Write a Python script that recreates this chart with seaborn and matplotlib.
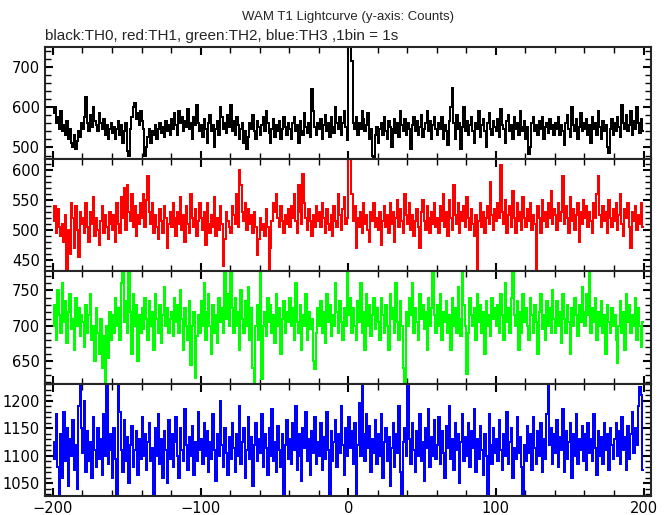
import matplotlib
matplotlib.use("Agg")
import matplotlib.pyplot as plt
import numpy as np
import seaborn as sns
from matplotlib.ticker import MultipleLocator

# WAM T1 lightcurve, 1 s bins from -200 s to +200 s
time_bins = np.arange(-200, 200) + 0.5

th0_counts = [
    585, 600, 560, 575, 545, 590, 540, 555, 530, 565, 520, 545, 510, 500, 530, 495, 515, 540, 525, 560,
    545, 575, 625, 560, 540, 580, 550, 600, 565, 555, 540, 585, 560, 545, 570, 530, 555, 520, 545, 560,
    535, 550, 520, 545, 565, 530, 555, 510, 540, 560, 490, 480, 545, 575, 600, 610, 570, 585, 555, 590,
    565, 545, 480, 500, 525, 545, 510, 540, 530, 555, 520, 545, 560, 535, 550, 525, 565, 540, 555, 530,
    570, 545, 585, 555, 530, 590, 560, 575, 540, 565, 550, 595, 545, 560, 520, 575, 555, 605, 560, 540,
    555, 525, 570, 545, 510, 560, 580, 540, 555, 500, 545, 565, 530, 600, 575, 545, 560, 535, 580, 550,
    605, 540, 565, 530, 575, 555, 520, 545, 560, 510, 540, 495, 525, 560, 545, 580, 540, 520, 565, 550,
    530, 555, 575, 540, 590, 560, 535, 510, 545, 570, 525, 555, 540, 565, 520, 545, 575, 550, 530, 560,
    545, 520, 560, 575, 540, 555, 510, 565, 540, 530, 585, 550, 535, 560, 525, 645, 590, 550, 530, 560,
    545, 570, 520, 555, 580, 540, 560, 525, 575, 550, 535, 600, 560, 545, 575, 530, 560, 591, 550, 518,
    800, 765, 715, 560, 545, 575, 530, 560, 545, 590, 570, 540, 555, 585, 520, 545, 480, 475, 530, 550,
    510, 545, 560, 530, 575, 540, 520, 565, 550, 500, 545, 570, 535, 560, 525, 590, 555, 540, 570, 530,
    560, 545, 495, 555, 575, 540, 565, 530, 550, 580, 525, 545, 560, 590, 540, 565, 520, 555, 575, 545,
    530, 560, 545, 575, 520, 555, 540, 505, 565, 600, 648, 560, 520, 580, 545, 560, 495, 550, 600, 540,
    565, 530, 555, 575, 540, 510, 560, 545, 590, 525, 555, 570, 540, 500, 560, 585, 545, 530, 565, 550,
    540, 570, 525, 595, 555, 545, 510, 565, 580, 540, 555, 520, 575, 545, 560, 530, 590, 550, 540, 565,
    520, 550, 485, 500, 560, 575, 540, 555, 530, 565, 545, 575, 520, 550, 560, 535, 570, 545, 555, 530,
    560, 545, 575, 530, 555, 540, 505, 560, 580, 545, 525, 600, 555, 540, 570, 520, 550, 585, 540, 560,
    545, 570, 530, 555, 510, 575, 545, 560, 530, 590, 550, 520, 565, 540, 555, 500, 487, 545, 570, 530,
    560, 540, 575, 550, 525, 605, 560, 545, 580, 540, 555, 590, 530, 565, 545, 600, 560, 535, 570, 540,
]

th1_counts = [
    515, 540, 495, 535, 505, 490, 510, 480, 525, 435, 500, 460, 545, 520, 470, 540, 500, 455, 530, 510,
    520, 495, 545, 505, 480, 530, 510, 555, 490, 520, 500, 475, 515, 540, 495, 525, 505, 485, 530, 510,
    500, 525, 480, 545, 510, 495, 555, 520, 570, 500, 575, 530, 515, 560, 505, 540, 490, 525, 510, 545,
    520, 560, 505, 550, 590, 530, 510, 545, 495, 525, 505, 485, 535, 515, 495, 540, 520, 470, 510, 530,
    505, 545, 520, 490, 530, 510, 555, 500, 525, 480, 540, 510, 495, 560, 520, 505, 535, 490, 515, 545,
    520, 500, 530, 475, 545, 510, 495, 525, 505, 555, 490, 520, 500, 540, 510, 440, 485, 530, 515, 505,
    495, 540, 525, 510, 560, 505, 600, 575, 530, 515, 545, 500, 535, 510, 525, 495, 530, 505, 458, 485,
    520, 500, 510, 490, 535, 505, 433, 470, 515, 545, 530, 560, 520, 505, 540, 515, 495, 525, 510, 535,
    505, 540, 520, 560, 515, 495, 575, 530, 510, 593, 545, 520, 500, 535, 515, 490, 525, 505, 540, 515,
    530, 505, 545, 520, 495, 535, 510, 500, 525, 490, 540, 515, 505, 560, 525, 500, 535, 555, 510, 520,
    625, 620, 560, 515, 540, 470, 520, 505, 530, 495, 545, 510, 525, 500, 480, 530, 515, 545, 505, 520,
    500, 530, 475, 515, 540, 505, 525, 495, 545, 510, 530, 480, 520, 550, 505, 535, 515, 495, 560, 525,
    510, 545, 500, 525, 490, 515, 535, 505, 470, 530, 550, 515, 500, 540, 520, 495, 530, 510, 545, 505,
    520, 495, 540, 515, 560, 505, 530, 490, 550, 520, 500, 575, 525, 510, 545, 495, 530, 515, 540, 505,
    555, 520, 500, 535, 510, 490, 525, 433, 515, 545, 505, 530, 495, 520, 540, 510, 580, 525, 500, 535,
    515, 545, 520, 608, 530, 510, 550, 495, 525, 540, 505, 565, 520, 495, 545, 515, 530, 500, 555, 520,
    505, 535, 515, 545, 500, 525, 510, 433, 540, 520, 495, 550, 515, 530, 505, 545, 520, 565, 510, 535,
    525, 500, 545, 515, 530, 590, 510, 540, 520, 495, 555, 515, 535, 500, 525, 545, 480, 530, 510, 550,
    520, 540, 505, 530, 515, 495, 545, 520, 560, 590, 525, 505, 540, 515, 530, 495, 550, 520, 505, 535,
    515, 545, 500, 525, 560, 510, 490, 535, 520, 545, 505, 470, 530, 515, 540, 500, 525, 510, 545, 505,
]

th2_counts = [
    700, 730, 680, 750, 715, 690, 760, 705, 735, 675, 720, 745, 695, 710, 665, 740, 700, 725, 685, 715,
    705, 670, 730, 690, 715, 745, 680, 700, 650, 725, 690, 660, 710, 640, 685, 620, 700, 655, 720, 680,
    715, 690, 740, 700, 725, 680, 760, 780, 705, 735, 690, 780, 720, 660, 745, 700, 730, 650, 715, 690,
    725, 695, 740, 710, 680, 735, 700, 720, 665, 745, 710, 690, 730, 675, 715, 755, 700, 725, 690, 710,
    720, 685, 740, 705, 730, 690, 750, 710, 665, 725, 700, 680, 735, 645, 700, 720, 626, 685, 715, 690,
    735, 700, 760, 680, 720, 745, 700, 660, 730, 690, 715, 675, 740, 705, 725, 690, 780, 710, 745, 700,
    780, 725, 690, 740, 700, 720, 665, 750, 710, 690, 735, 700, 755, 680, 725, 640, 618, 700, 730, 680,
    780, 625, 700, 720, 685, 740, 705, 730, 690, 715, 675, 745, 700, 725, 660, 710, 735, 690, 720, 705,
    740, 700, 725, 680, 760, 705, 690, 730, 665, 715, 700, 745, 680, 720, 695, 710, 650, 639, 690, 725,
    700, 735, 690, 720, 675, 745, 705, 730, 685, 715, 700, 760, 720, 690, 735, 705, 680, 725, 700, 780,
    715, 740, 690, 725, 700, 680, 735, 705, 760, 690, 720, 665, 745, 700, 730, 685, 715, 740, 695, 725,
    705, 680, 740, 715, 690, 730, 700, 665, 745, 710, 725, 690, 760, 705, 680, 735, 700, 640, 618, 720,
    700, 740, 715, 760, 690, 725, 705, 680, 745, 710, 730, 695, 720, 665, 740, 700, 725, 780, 715, 690,
    730, 700, 745, 680, 720, 705, 735, 690, 715, 665, 740, 700, 725, 690, 755, 710, 685, 780, 730, 700,
    632, 690, 740, 715, 700, 725, 680, 745, 705, 730, 690, 720, 660, 735, 700, 715, 685, 740, 710, 725,
    700, 730, 690, 745, 715, 680, 760, 705, 725, 690, 740, 780, 715, 700, 735, 665, 720, 690, 745, 705,
    725, 700, 680, 740, 715, 690, 730, 705, 660, 720, 745, 695, 715, 680, 735, 700, 725, 690, 750, 710,
    690, 735, 700, 720, 675, 745, 710, 690, 730, 705, 660, 725, 700, 740, 715, 685, 730, 705, 755, 720,
    700, 745, 715, 780, 690, 725, 705, 740, 680, 720, 700, 735, 690, 715, 660, 730, 705, 690, 725, 700,
    715, 680, 647, 700, 735, 690, 720, 665, 745, 705, 730, 690, 715, 700, 740, 680, 725, 700, 670, 705,
]

th3_counts = [
    1125, 1095, 1175, 1080, 1030, 1140, 1060, 1180, 1090, 1150, 1045, 1130, 1100, 1165, 1075, 1120, 1040, 1190, 1231, 1150,
    1105, 1200, 1070, 1145, 1090, 1125, 1060, 1170, 1110, 1080, 1150, 1095, 1130, 1065, 1175, 1100, 1231, 1085, 1140, 1110,
    1060, 1150, 1095, 1030, 1231, 1180, 1110, 1070, 1165, 1090, 1135, 1050, 1120, 1155, 1080, 1110, 1145, 1065, 1130, 1095,
    1170, 1100, 1140, 1075, 1125, 1160, 1090, 1115, 1030, 1150, 1100, 1175, 1085, 1130, 1060, 1145, 1110, 1050, 1165, 1095,
    1140, 1080, 1125, 1170, 1100, 1060, 1150, 1110, 1090, 1185, 1120, 1075, 1135, 1100, 1155, 1065, 1125, 1090, 1180, 1110,
    1130, 1085, 1160, 1100, 1145, 1070, 1125, 1095, 1175, 1110, 1055, 1140, 1100, 1200, 1120, 1080, 1150, 1105, 1065, 1135,
    1095, 1160, 1115, 1070, 1140, 1100, 1190, 1085, 1125, 1150, 1060, 1110, 1170, 1095, 1135, 1045, 1120, 1160, 1090, 1130,
    1105, 1175, 1080, 1140, 1115, 1065, 1150, 1100, 1185, 1090, 1125, 1070, 1155, 1110, 1080, 1140, 1030, 1120, 1165, 1095,
    1130, 1085, 1160, 1110, 1190, 1075, 1140, 1100, 1055, 1150, 1115, 1180, 1090, 1130, 1065, 1145, 1105, 1170, 1085, 1125,
    1100, 1160, 1075, 1135, 1095, 1180, 1110, 1030, 1145, 1090, 1125, 1165, 1080, 1140, 1105, 1190, 1120, 1065, 1150, 1100,
    1170, 1115, 1145, 1085, 1160, 1030, 1120, 1195, 1100, 1231, 1140, 1090, 1175, 1115, 1155, 1070, 1130, 1105, 1165, 1085,
    1140, 1100, 1175, 1060, 1125, 1150, 1090, 1135, 1045, 1115, 1160, 1080, 1140, 1105, 1190, 1070, 1030, 1125, 1150, 1100,
    1231, 1130, 1085, 1160, 1110, 1070, 1145, 1100, 1175, 1090, 1125, 1055, 1150, 1115, 1185, 1080, 1135, 1100, 1165, 1095,
    1120, 1170, 1085, 1145, 1105, 1060, 1155, 1115, 1190, 1095, 1130, 1075, 1160, 1110, 1140, 1050, 1125, 1175, 1090, 1135,
    1100, 1160, 1080, 1145, 1115, 1185, 1070, 1130, 1095, 1155, 1110, 1065, 1140, 1100, 1030, 1175, 1120, 1085, 1150, 1105,
    1130, 1090, 1165, 1110, 1075, 1140, 1100, 1180, 1085, 1125, 1150, 1060, 1115, 1095, 1170, 1105, 1135, 1080, 1030, 1120,
    1090, 1155, 1105, 1140, 1075, 1170, 1115, 1085, 1145, 1100, 1160, 1070, 1130, 1095, 1175, 1231, 1120, 1150, 1085, 1140,
    1105, 1165, 1080, 1135, 1110, 1185, 1070, 1145, 1095, 1125, 1160, 1060, 1140, 1100, 1175, 1085, 1130, 1110, 1155, 1090,
    1140, 1075, 1160, 1105, 1130, 1090, 1175, 1115, 1065, 1145, 1100, 1135, 1085, 1160, 1110, 1140, 1075, 1150, 1120, 1095,
    1130, 1160, 1100, 1145, 1085, 1170, 1110, 1135, 1075, 1155, 1095, 1140, 1180, 1105, 1150, 1120, 1190, 1225, 1210, 1075,
]

channels = [th0_counts, th1_counts, th2_counts, th3_counts]
colors = ["black", "#ff0000", "#00ff00", "#0000ff"]
ylims = [(471, 750), (431, 618), (618, 777), (1027, 1231)]
ymajor = [100, 50, 50, 50]
yminor = [20, 10, 10, 10]

sns.set_style("ticks")
plt.rcParams["font.family"] = ["DejaVu Sans"]

fig, axes = plt.subplots(4, 1, figsize=(6.69, 5.15), dpi=100, sharex=True)
fig.subplots_adjust(left=0.067, right=0.973, top=0.909, bottom=0.037, hspace=0)

for ax, counts, c, yl, mj, mn in zip(axes, channels, colors, ylims, ymajor, yminor):
    sns.lineplot(x=time_bins, y=counts, ax=ax, color=c, drawstyle="steps-mid",
                 linewidth=1.1, antialiased=False, estimator=None, legend=False)
    ax.set_xlim(-205.5, 205)
    ax.set_ylim(*yl)
    ax.yaxis.set_major_locator(MultipleLocator(mj))
    ax.yaxis.set_minor_locator(MultipleLocator(mn))
    ax.xaxis.set_major_locator(MultipleLocator(100))
    ax.xaxis.set_minor_locator(MultipleLocator(20))
    ax.tick_params(which="both", direction="in", top=True, right=True,
                   labelsize=10.5, colors="black")
    ax.tick_params(which="major", length=6, width=1.5)
    ax.tick_params(which="minor", length=4, width=1.0)
    for sp in ax.spines.values():
        sp.set_linewidth(1.5)
        sp.set_visible(True)
    ax.set_xlabel("")
    ax.set_ylabel("")

fig.text(0.52, 0.967, "WAM T1 Lightcurve (y-axis: Counts)", ha="center", va="center",
         fontsize=9.5, family="Liberation Sans")
fig.text(0.068, 0.930, "black:TH0, red:TH1, green:TH2, blue:TH3 ,1bin = 1s", ha="left",
         va="center", fontsize=11, family="Liberation Sans")

fig.savefig("out.png", dpi=100)
